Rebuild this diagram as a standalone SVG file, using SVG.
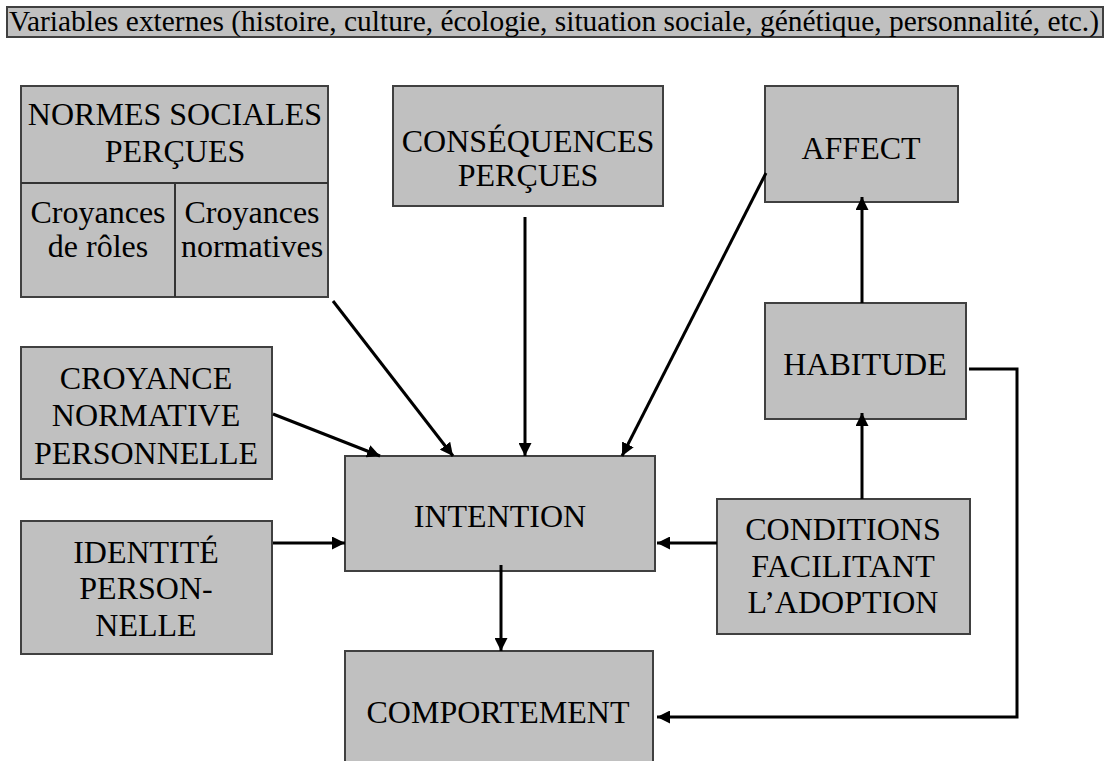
<svg xmlns="http://www.w3.org/2000/svg" width="1112" height="761" viewBox="0 0 1112 761">
<style>
.box{fill:#c0c0c0;stroke:#404040;stroke-width:2}
.div{stroke:#333;stroke-width:2;fill:none}
text{font-family:"Liberation Serif","Times New Roman",serif;fill:#000}
.t{font-size:32px;text-anchor:middle}
.b{font-size:29px}
.c{stroke:#000;stroke-width:3;fill:none}
</style>
<defs>
<marker id="ah" viewBox="0 0 10 10" refX="10" refY="5" markerWidth="13" markerHeight="13" markerUnits="userSpaceOnUse" orient="auto">
<path d="M0,0 L10,5 L0,10 z" fill="#000"/>
</marker>
</defs>
<g id="banner">
<rect class="box" x="7" y="7" width="1096" height="30"/>
<text class="b" x="9" y="31" textLength="1090" lengthAdjust="spacingAndGlyphs">Variables externes (histoire, culture, écologie, situation sociale, génétique, personnalité, etc.)</text>
</g>
<g id="normes">
<rect class="box" x="21" y="86" width="307" height="211"/>
<line class="div" x1="21" y1="183" x2="328" y2="183"/>
<line class="div" x1="175" y1="183" x2="175" y2="297"/>
<text class="t" x="175" y="125">NORMES SOCIALES</text>
<text class="t" x="175" y="162">PERÇUES</text>
<text class="t" x="98" y="223">Croyances</text>
<text class="t" x="98" y="257">de rôles</text>
<text class="t" x="252" y="223">Croyances</text>
<text class="t" x="252" y="257">normatives</text>
</g>
<g id="consequences">
<rect class="box" x="393" y="86" width="270" height="120"/>
<text class="t" x="528" y="152">CONSÉQUENCES</text>
<text class="t" x="528" y="186">PERÇUES</text>
</g>
<g id="affect">
<rect class="box" x="765" y="86" width="193" height="116"/>
<text class="t" x="861" y="159">AFFECT</text>
</g>
<g id="habitude">
<rect class="box" x="765" y="303" width="201" height="116"/>
<text class="t" x="865" y="375">HABITUDE</text>
</g>
<g id="croyance">
<rect class="box" x="21" y="347" width="251" height="132"/>
<text class="t" x="146" y="389">CROYANCE</text>
<text class="t" x="146" y="426">NORMATIVE</text>
<text class="t" x="146" y="464">PERSONNELLE</text>
</g>
<g id="intention">
<rect class="box" x="345" y="456" width="310" height="115"/>
<text class="t" x="500" y="527">INTENTION</text>
</g>
<g id="identite">
<rect class="box" x="21" y="521" width="251" height="133"/>
<text class="t" x="146" y="563">IDENTITÉ</text>
<text class="t" x="146" y="599">PERSON-</text>
<text class="t" x="146" y="636">NELLE</text>
</g>
<g id="conditions">
<rect class="box" x="717" y="499" width="253" height="135"/>
<text class="t" x="843" y="540">CONDITIONS</text>
<text class="t" x="843" y="577">FACILITANT</text>
<text class="t" x="843" y="613">L’ADOPTION</text>
</g>
<g id="comportement">
<rect class="box" x="345" y="651" width="308" height="120"/>
<text class="t" x="498" y="723">COMPORTEMENT</text>
</g>
<g id="connectors">
<path class="c" d="M333,301 L453,456" marker-end="url(#ah)"/>
<path class="c" d="M273,414 L380,456" marker-end="url(#ah)"/>
<path class="c" d="M525,217 L525,456" marker-end="url(#ah)"/>
<path class="c" d="M766,173 L622,456" marker-end="url(#ah)"/>
<path class="c" d="M273,543 L345,543" marker-end="url(#ah)"/>
<path class="c" d="M717,543 L657,543" marker-end="url(#ah)"/>
<path class="c" d="M501,565 L501,651" marker-end="url(#ah)"/>
<path class="c" d="M862,303 L862,197" marker-end="url(#ah)"/>
<path class="c" d="M862,499 L862,413" marker-end="url(#ah)"/>
<path class="c" d="M969,369 L1017,369 L1017,717 L657,717" marker-end="url(#ah)"/>
</g>
</svg>
